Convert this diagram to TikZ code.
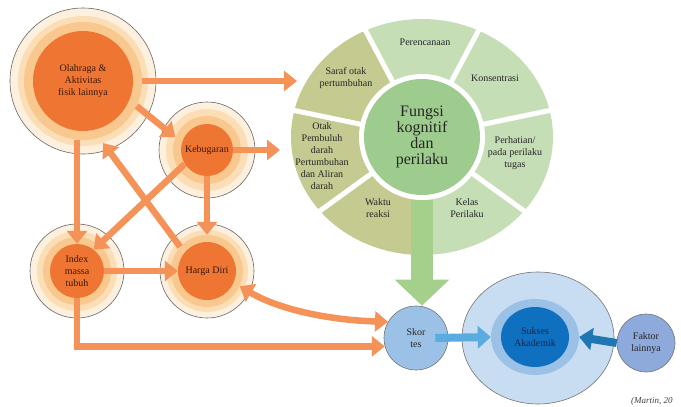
\documentclass[tikz,border=0pt]{standalone}
\usepackage{fontspec}
\setmainfont{Liberation Serif}
\usetikzlibrary{arrows.meta,calc,shapes.geometric}
\definecolor{oCore}{RGB}{238,118,50}
\definecolor{oGlow}{RGB}{249,200,142}
\definecolor{oGlowB}{RGB}{252,222,182}
\definecolor{oPale}{RGB}{254,240,222}
\definecolor{oArrow}{RGB}{244,146,88}
\definecolor{olive}{RGB}{197,202,145}
\definecolor{lgreen}{RGB}{198,222,182}
\definecolor{cgreen}{RGB}{158,204,142}
\definecolor{garrow}{RGB}{165,208,140}
\definecolor{bSkor}{RGB}{155,194,230}
\definecolor{bOuter}{RGB}{200,220,242}
\definecolor{bMid}{RGB}{155,194,230}
\definecolor{bInner}{RGB}{16,112,192}
\definecolor{bFak}{RGB}{142,169,219}
\definecolor{bLight}{RGB}{90,172,224}
\definecolor{bDark}{RGB}{30,118,178}
\definecolor{txtc}{RGB}{60,22,10}
\definecolor{navy}{RGB}{20,35,70}
\begin{document}
\begin{tikzpicture}[x=1pt,y=-1pt,
  txt/.style={font=\fontsize{10}{12}\selectfont, align=center, text=txtc, inner sep=0pt},
  rim/.style={circle, draw=black!60, line width=0.6pt, fill=oPale, inner sep=0pt},
  glowA/.style={circle, fill=oGlowB, inner sep=0pt},
  glowB/.style={circle, fill=oGlow, inner sep=0pt},
  core/.style={circle, fill=oCore, inner sep=0pt, txt},
  oarrow/.style={draw=oArrow, line width=6.5pt, -{Triangle[width=20pt,length=13pt]}},
  oboth/.style={draw=oArrow, line width=6.5pt, {Triangle[width=20pt,length=13pt]}-{Triangle[width=20pt,length=13pt]}},
  barrow/.style={line width=8pt, -{Triangle[width=22pt,length=13pt]}},
  segtxt/.style={txt, text=black!85},
  bluecirc/.style={circle, draw=black!55, line width=0.6pt, inner sep=0pt, txt, text=black!85}
]
\useasboundingbox (0,0) rectangle (681,407);

% ---------- orange circles ----------
\node[rim, minimum size=146pt] (olaO) at (83,81) {};
\node[glowA, minimum size=130pt] (olaA) at (83,81) {};
\node[glowB, minimum size=118pt] (olaG) at (83,81) {};
\node[core, minimum size=100pt] (ola) at (83,81) {Olahraga \&\\Aktivitas\\fisik lainnya};

\node[rim, minimum size=96pt] (kebO) at (207,150) {};
\node[glowA, minimum size=82pt] (kebA) at (207,150) {};
\node[glowB, minimum size=68pt] (kebG) at (207,150) {};
\node[core, minimum size=52pt] (keb) at (207,150) {Kebugaran};

\node[rim, minimum size=94pt] (idxO) at (77,271) {};
\node[glowA, minimum size=80pt] (idxA) at (77,271) {};
\node[glowB, minimum size=68pt] (idxG) at (77,271) {};
\node[core, minimum size=54pt] (idx) at (77,271) {Index\\massa\\tubuh};

\node[rim, minimum size=94pt] (hdO) at (207,271) {};
\node[glowA, minimum size=82pt] (hdA) at (207,271) {};
\node[glowB, minimum size=72pt] (hdG) at (207,271) {};
\node[core, minimum size=58pt] (hd) at (207,271) {Harga Diri};

% ---------- green wheel ----------
\coordinate (wc) at (422,137);
\foreach \a/\b/\c in {115.7/167.1/olive, 167.1/218.6/olive, 218.6/270/olive,
                      270/321.4/lgreen, 321.4/372.9/lgreen, 12.9/64.3/lgreen, 64.3/115.7/lgreen}
  \fill[\c] (wc) -- +(\a:131pt and 118pt) arc[start angle=\a, end angle=\b, x radius=131pt, y radius=118pt] -- cycle;
\foreach \a in {115.7,64.3,12.9,-38.6,-90,-141.4,167.1}
  \draw[white, line width=5pt] (wc) -- +(\a:140pt and 127pt);
\fill[white] (wc) circle[radius=63pt];
\node[circle, fill=cgreen, minimum size=116pt, inner sep=0pt, align=center,
      font=\fontsize{16}{16}\selectfont, text=black!85] (fungsi) at (wc) {Fungsi\\kognitif\\dan\\perilaku};

\node[segtxt] (perenc) at (425,42) {Perencanaan};
\node[segtxt] (konsen) at (495,78) {Konsentrasi};
\node[segtxt] (perhat) at (515,153) {Perhatian/\\pada perilaku\\tugas};
\node[segtxt] (kelas) at (467,208) {Kelas\\Perilaku};
\node[segtxt] (waktu) at (378,208) {Waktu\\reaksi};
\node[segtxt] (otak) at (322,156) {Otak\\Pembuluh\\darah\\Pertumbuhan\\dan Aliran\\darah};
\node[segtxt] (saraf) at (346,78) {Saraf otak\\pertumbuhan};

% ---------- blue circles ----------
\node[bluecirc, fill=bSkor, minimum size=64pt] (skor) at (416,338) {Skor\\tes};
\node[ellipse, draw=black!55, line width=0.6pt, fill=bOuter, minimum width=152pt, minimum height=132pt, inner sep=0pt] (sukO) at (538,338) {};
\node[ellipse, fill=bMid, minimum width=88pt, minimum height=76pt, inner sep=0pt] (sukM) at (535,337) {};
\node[ellipse, fill=bInner, minimum width=68pt, minimum height=60pt, inner sep=0pt, txt, text=navy] (suk) at (535,337) {Sukses\\Akademik};
\node[bluecirc, fill=bFak, minimum size=58pt] (fak) at (646,343) {Faktor\\lainnya};

% ---------- connectors ----------
\coordinate (tipSaraf) at (297,81);
\coordinate (tipOtak) at (280,150);
\draw[oarrow] (olaG.east) -- (tipSaraf);
\draw[oarrow] (olaG.-25) -- (kebG.158);
\draw[oarrow] (keb.east) -- (tipOtak);
\draw[oarrow] (olaG.south -| idx.north) -- (idx.north);
\draw[oarrow] (keb.212) -- (idx.52);
\draw[oarrow] (hdG.138) -- (olaA.-72);
\draw[oarrow] (keb.south) -- (hdG.north);
\draw[oarrow] (idx.east) -- (hd.west);
\draw[oboth] (hdG.-25) .. controls (280,310) and (330,320) .. (skor.150);
\draw[oarrow] (idx.south) |- (skor.195);

\draw[draw=garrow, line width=22pt, -{Triangle[width=53pt,length=26pt]}]
  ([yshift=-5pt]fungsi.south) -- (fungsi.south |- skor.north);

\draw[barrow, draw=bLight] ([xshift=-13pt]skor.east) -- (sukM.west);
\draw[barrow, draw=bDark] (fak.west) -- (sukM.east);

\node[anchor=west, inner sep=0pt, font=\fontsize{9}{10}\selectfont\itshape, text=black!75] (cite) at (631,401) {(Martin, 20};
\end{tikzpicture}
\end{document}
